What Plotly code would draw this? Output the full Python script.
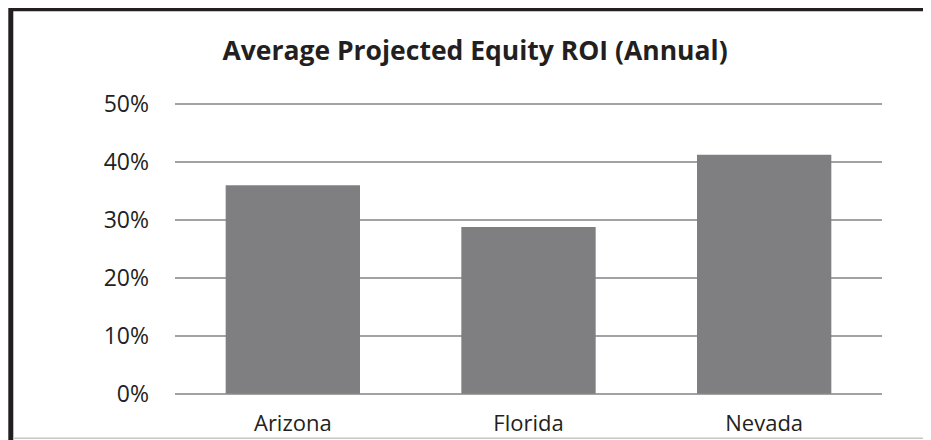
import plotly.graph_objects as go

states = ["Arizona", "Florida", "Nevada"]
roi = [0.360, 0.288, 0.413]
tick_vals = [0, 0.1, 0.2, 0.3, 0.4, 0.5]
tick_text = ["0%", "10%", "20%", "30%", "40%", "50%"]
y_range = [-0.004, 0.504]

# page body has an 8px margin, so figure coords = screen coords - 8
OFF = 8
W, H = 931, 440
Y0_SCREEN, Y50_SCREEN = 394.0, 104.7
k = (Y0_SCREEN - Y50_SCREEN) / 0.5
top_screen = Y50_SCREEN - (y_range[1] - 0.5) * k
bot_screen = Y0_SCREEN + (0 - y_range[0]) * k

L, R = 175 - OFF, 49 + OFF
T = top_screen - OFF
B = H - (bot_screen - OFF)
pw, ph = W - L - R, H - T - B

def px_x(x):
    return (x - OFF - L) / pw

def px_y(y):
    return (H - B - (y - OFF)) / ph

fig = go.Figure(go.Bar(
    x=states, y=roi,
    marker=dict(color="#7f7f82", line=dict(width=0)),
    hoverinfo="skip",
))

fig.update_layout(
    width=W, height=H,
    margin=dict(l=L, r=R, t=T, b=B, autoexpand=False),
    paper_bgcolor="white", plot_bgcolor="white",
    bargap=0.43,
    showlegend=False,
    font=dict(family="Open Sans", color="#231f20", size=23),
    title=dict(
        text="<b>Average Projected Equity ROI (Annual)</b>",
        x=(475 - OFF) / W, xref="container", xanchor="center",
        y=1 - (51 - OFF) / H, yref="container", yanchor="middle",
        font=dict(family="Open Sans", size=26.5, color="#231f20"),
    ),
    xaxis=dict(
        showgrid=False, zeroline=False, showline=False, automargin=False,
        ticks="", tickfont=dict(size=22), ticklabelstandoff=12,
    ),
    yaxis=dict(
        range=y_range, tickvals=tick_vals, ticktext=tick_text,
        showgrid=True, gridcolor="#a2a2a4", gridwidth=1.6,
        zeroline=False, showline=False, ticks="", automargin=False,
        tickfont=dict(size=23), ticklabelstandoff=25,
    ),
    shapes=[
        dict(type="line", xref="paper", yref="paper",
             x0=px_x(10.8), x1=px_x(960), y0=px_y(9.2), y1=px_y(9.2),
             line=dict(color="#231f20", width=5)),
        dict(type="line", xref="paper", yref="paper",
             x0=px_x(10.8), x1=px_x(10.8), y0=px_y(6.7), y1=px_y(460),
             line=dict(color="#231f20", width=5)),
        dict(type="line", xref="paper", yref="paper",
             x0=px_x(13), x1=px_x(960), y0=px_y(438.5), y1=px_y(438.5),
             line=dict(color="#c8c8c8", width=1.5)),
    ],
)

fig.write_html("out.html")
